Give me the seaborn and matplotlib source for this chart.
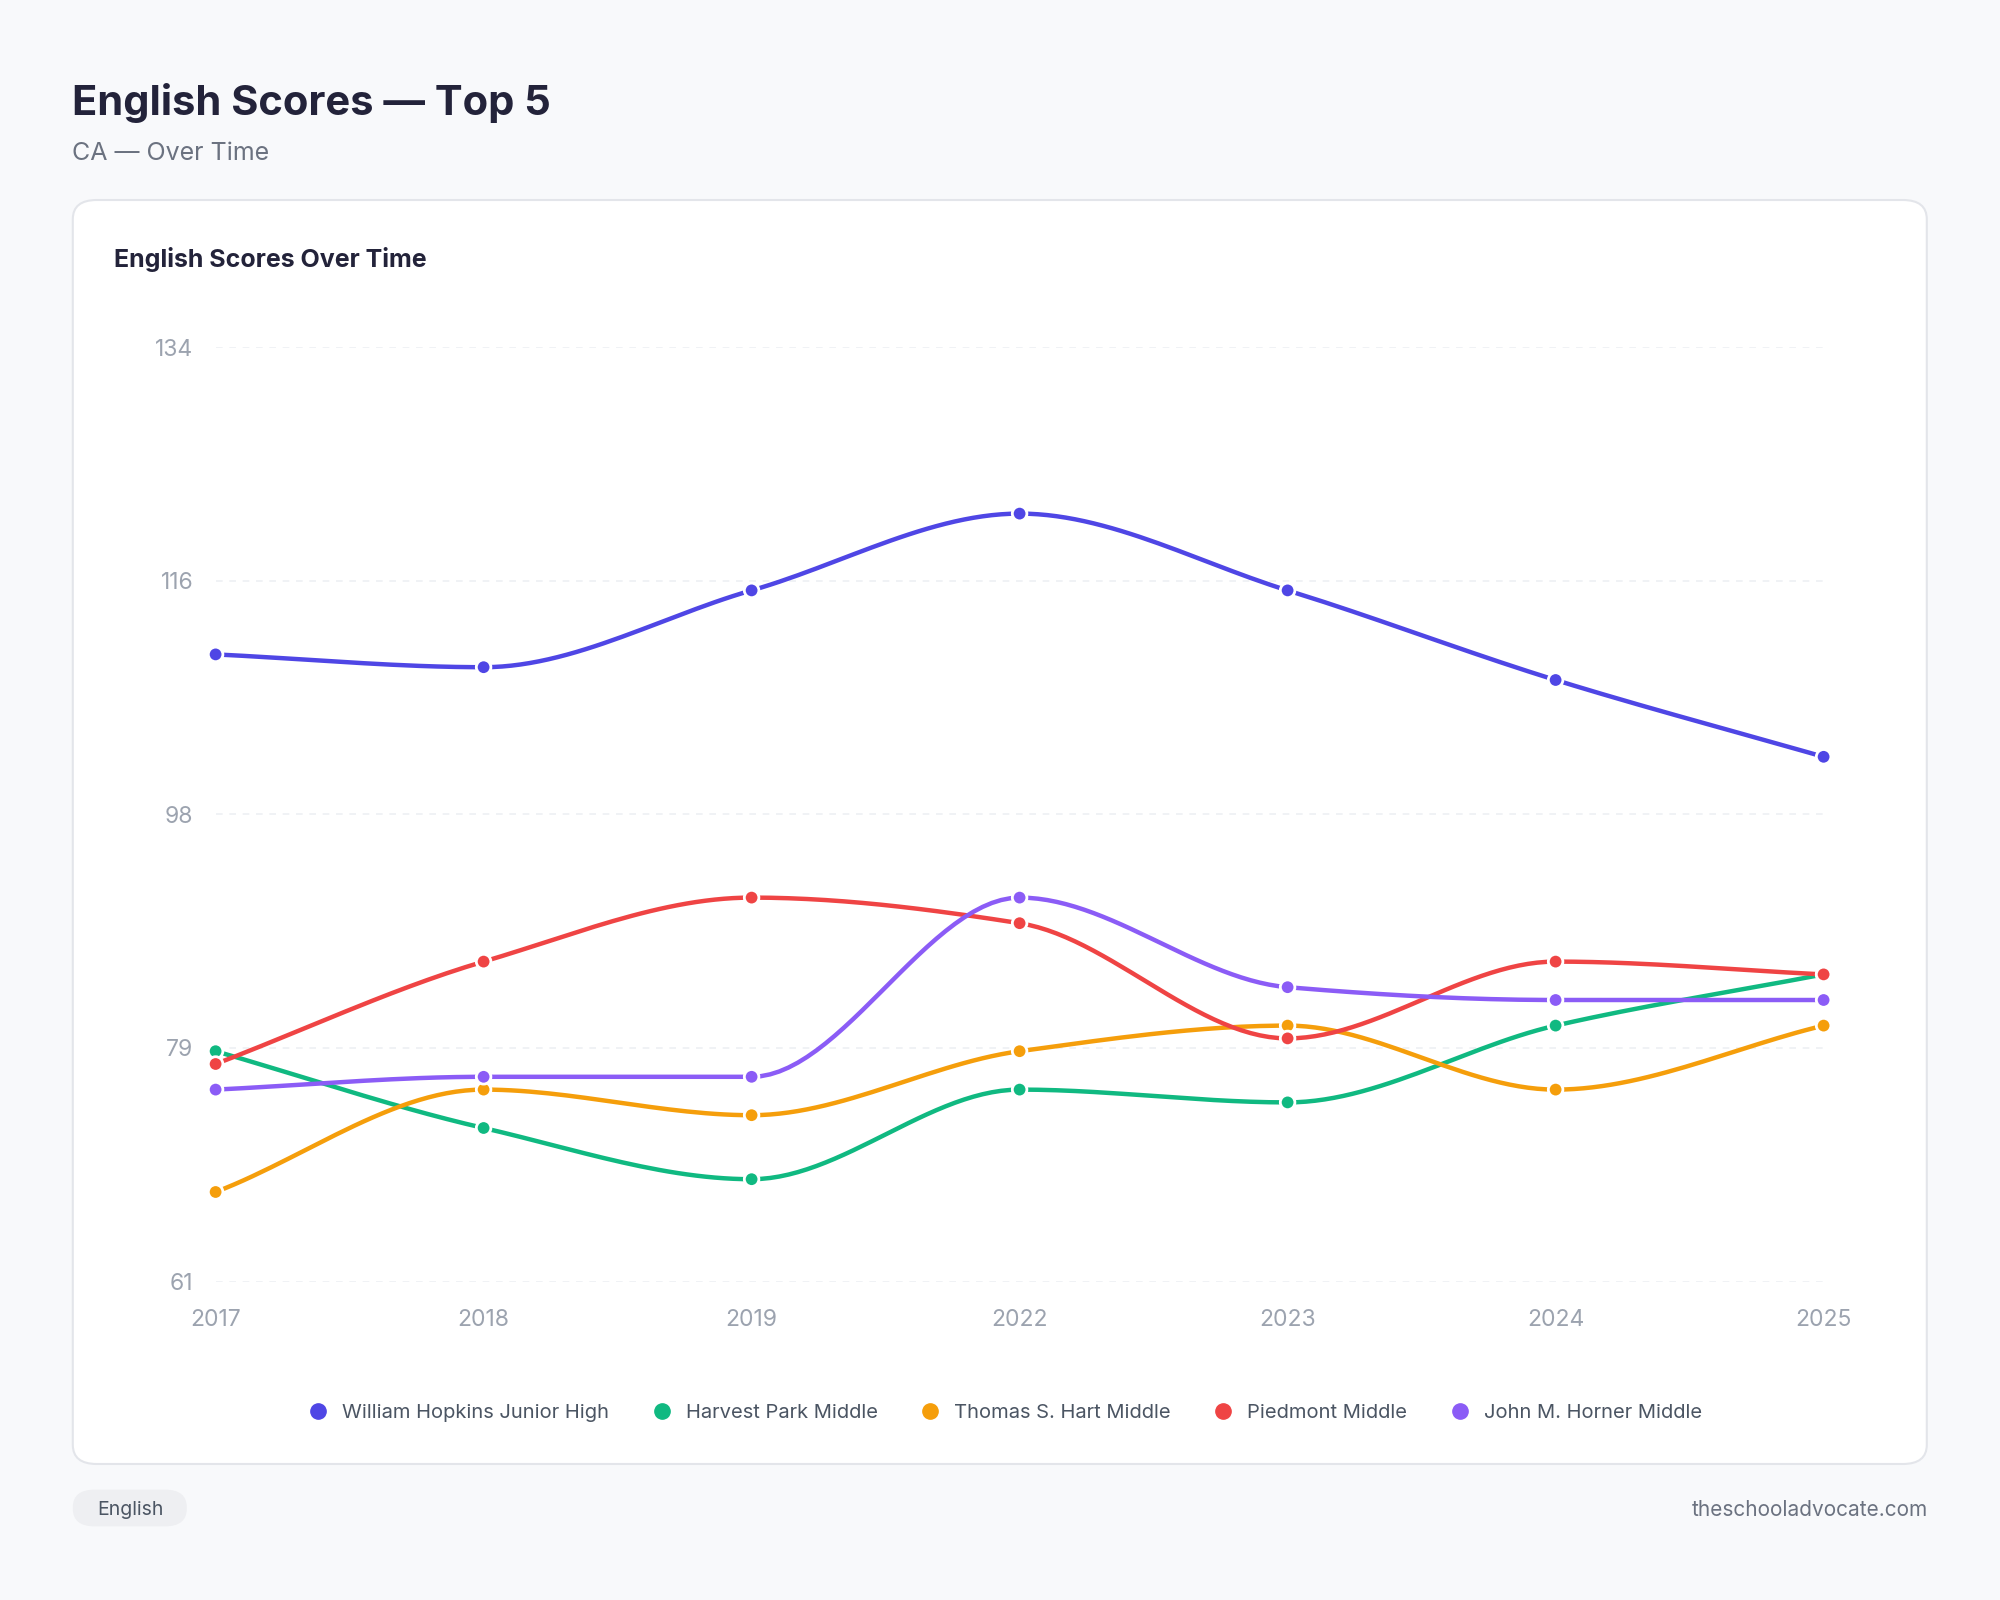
import numpy as np
import pandas as pd
import matplotlib
matplotlib.use("Agg")
import matplotlib.pyplot as plt
from matplotlib.patches import FancyBboxPatch
import seaborn as sns

years = ["2017", "2018", "2019", "2022", "2023", "2024", "2025"]
william = [110, 109, 115, 121, 115, 108, 102]
harvest = [79, 73, 69, 76, 75, 81, 85]
thomas = [68, 76, 74, 79, 81, 76, 81]
piedmont = [78, 86, 91, 89, 80, 86, 85]
horner = [76, 77, 77, 91, 84, 83, 83]

schools = ["William Hopkins Junior High", "Harvest Park Middle", "Thomas S. Hart Middle",
           "Piedmont Middle", "John M. Horner Middle"]
colors = ["#4f46e5", "#10b981", "#f59e0b", "#ef4444", "#8b5cf6"]
y_ticks = [61, 79.25, 97.5, 115.75, 134]
y_labels = ["61", "79", "98", "116", "134"]

sns.set_style("white")
plt.rcParams['font.family'] = ['Inter', 'DejaVu Sans']

rows = []
for name, vals in zip(schools, [william, harvest, thomas, piedmont, horner]):
    for i, v in enumerate(vals):
        rows.append({"school": name, "x": i, "score": v})
df = pd.DataFrame(rows)


def smooth(xs, ys, n=30):
    # monotone cubic curve through the points, for display only
    xs = np.asarray(xs, float)
    ys = np.asarray(ys, float)
    d = np.diff(ys)
    m = np.zeros_like(ys)
    for i in range(1, len(ys) - 1):
        m[i] = 0 if d[i - 1] * d[i] <= 0 else 2 / (1 / d[i - 1] + 1 / d[i])
    m[0], m[-1] = d[0], d[-1]
    out_x, out_y = [], []
    for i in range(len(xs) - 1):
        t = np.linspace(0, 1, n)
        h00 = 2 * t**3 - 3 * t**2 + 1
        h10 = t**3 - 2 * t**2 + t
        h01 = -2 * t**3 + 3 * t**2
        h11 = t**3 - t**2
        out_x.extend(xs[i] + t)
        out_y.extend(h00 * ys[i] + h10 * m[i] + h01 * ys[i + 1] + h11 * m[i + 1])
    return out_x, out_y


fig = plt.figure(figsize=(20, 16), dpi=100, facecolor="#f8f9fb")
card = FancyBboxPatch((0.0364, 0.085), 0.927, 0.79, boxstyle="round,pad=0,rounding_size=0.012",
                      transform=fig.transFigure, facecolor="white", edgecolor="#e3e5ea", lw=1.5,
                      zorder=-5)
fig.patches.append(card)

fig.text(0.036, 0.928, "English Scores — Top 5", fontsize=30, fontweight="bold", color="#23233a")
fig.text(0.036, 0.9, "CA — Over Time", fontsize=18, color="#6b7280")
fig.text(0.057, 0.833, "English Scores Over Time", fontsize=18, fontweight="bold", color="#23233a")

ax = fig.add_axes([0.1078, 0.199, 0.804, 0.584], zorder=2)
ax.patch.set_alpha(0)
for name, c in zip(schools, colors):
    sub = df[df.school == name]
    sx, sy = smooth(sub.x, sub.score)
    ax.plot(sx, sy, color=c, lw=3.2, zorder=2)
sns.scatterplot(data=df, x="x", y="score", hue="school", palette=colors, s=110,
                edgecolor="white", linewidth=2, ax=ax, zorder=3, legend=False, clip_on=False)

ax.set_xlim(0, 6)
ax.set_ylim(61, 134)
ax.set_xticks(range(len(years)))
ax.set_xticklabels(years)
ax.set_yticks(y_ticks)
ax.set_yticklabels(y_labels)
ax.tick_params(axis="both", labelsize=16.5, colors="#9ca3af", length=0)
ax.tick_params(axis="x", pad=20)
ax.tick_params(axis="y", pad=16)
ax.grid(axis="y", color="#eef0f3", ls=(0, (4, 4)), lw=1.2)
ax.set_xlabel("")
ax.set_ylabel("")
for s in ax.spines.values():
    s.set_visible(False)

handles = [plt.Line2D([], [], marker="o", ls="", color=c, markersize=11) for c in colors]
fig.legend(handles, schools, loc="center", bbox_to_anchor=(0.5, 0.117), ncol=5, frameon=False,
           fontsize=14.5, labelcolor="#4b5563", handletextpad=0.2, columnspacing=1.6)

badge = FancyBboxPatch((0.0364, 0.046), 0.057, 0.023, boxstyle="round,pad=0,rounding_size=0.011",
                       transform=fig.transFigure, facecolor="#eeeff2", edgecolor="none", zorder=-5)
fig.patches.append(badge)
fig.text(0.065, 0.0565, "English", fontsize=14, color="#4b5563", ha="center", va="center")
fig.text(0.964, 0.0565, "theschooladvocate.com", fontsize=15, color="#6b7280", ha="right", va="center")

fig.savefig("out.png", dpi=100, facecolor=fig.get_facecolor())
